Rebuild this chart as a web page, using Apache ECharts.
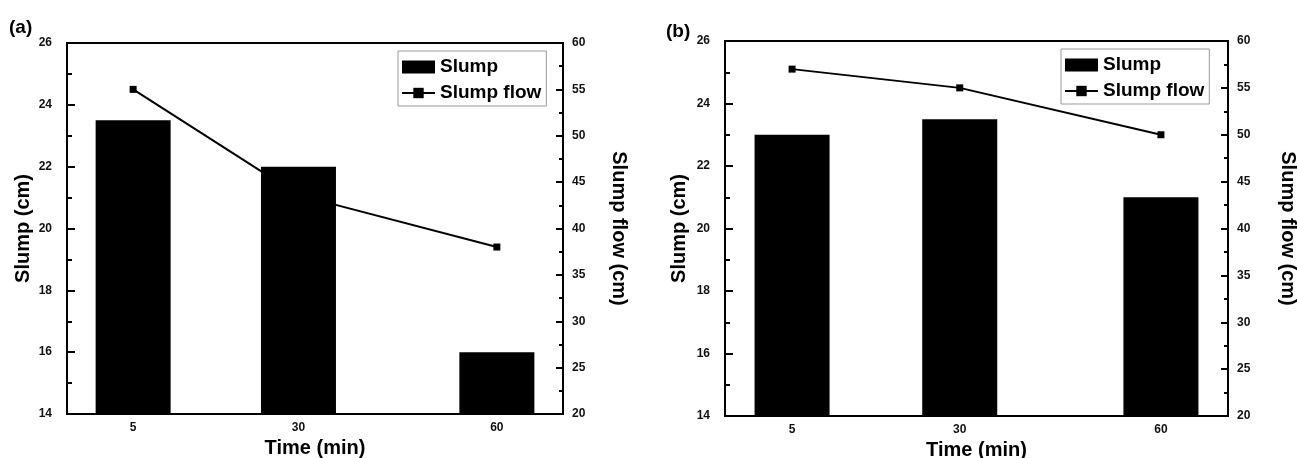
<!DOCTYPE html>
<html lang="en">
<head>
    <meta charset="UTF-8">
    <script src="https://cdn.jsdelivr.net/npm/echarts@6/dist/echarts.min.js"></script>
    <style>
        html, body { margin: 0; padding: 0; background: #fff; }
    </style>
</head>
<body>
<div id="chart" style="width: 1297px;height: 458px"></div>

<script>
    // time points (min)
    var times = [5, 30, 60];
    // panel (a)
    var slumpA = [23.5, 22, 16];
    var flowA = [55, 43.6, 38];
    // panel (b)
    var slumpB = [23, 23.5, 21];
    var flowB = [57, 55, 50];

    var font = '"Liberation Sans", Arial, sans-serif';

    function pairs(ys) {
        return times.map(function (t, i) { return [t, ys[i]]; });
    }

    function xAxisOf(gridIndex) {
        return {
            gridIndex: gridIndex,
            type: 'value',
            min: -5,
            max: 70,
            z: 3,
            name: 'Time (min)',
            nameLocation: 'middle',
            nameGap: 24,
            nameTextStyle: {color: '#000', fontSize: 20, fontWeight: 'bold', fontFamily: font},
            axisLine: {onZero: false, lineStyle: {color: '#000', width: 2}},
            axisTick: {show: false},
            splitLine: {show: false},
            axisLabel: {
                customValues: times,
                color: '#111', fontSize: 12, fontWeight: 'bold', fontFamily: font, margin: 8
            }
        };
    }

    function leftAxisOf(gridIndex, gap) {
        return {
            gridIndex: gridIndex,
            type: 'value',
            position: 'left',
            min: 14, max: 26, interval: 2,
            z: 3,
            name: 'Slump (cm)',
            nameLocation: 'middle',
            nameGap: gap,
            nameTextStyle: {color: '#000', fontSize: 20, fontWeight: 'bold', fontFamily: font},
            axisLine: {show: true, onZero: false, lineStyle: {color: '#000', width: 2}},
            axisTick: {inside: true, length: 8, lineStyle: {color: '#000', width: 2}},
            minorTick: {show: true, splitNumber: 2, length: 5, lineStyle: {color: '#000', width: 2}},
            splitLine: {show: false},
            axisLabel: {color: '#111', fontSize: 12, fontWeight: 'bold', fontFamily: font, margin: 15}
        };
    }

    function rightAxisOf(gridIndex, gap) {
        return {
            gridIndex: gridIndex,
            type: 'value',
            position: 'right',
            min: 20, max: 60, interval: 5,
            z: 3,
            name: 'Slump flow (cm)',
            nameLocation: 'middle',
            nameRotate: -90,
            nameGap: gap,
            nameTextStyle: {color: '#000', fontSize: 20, fontWeight: 'bold', fontFamily: font},
            axisLine: {show: true, onZero: false, lineStyle: {color: '#000', width: 2}},
            axisTick: {inside: true, length: 7, lineStyle: {color: '#000', width: 2}},
            minorTick: {show: true, splitNumber: 2, length: 4, lineStyle: {color: '#000', width: 2}},
            splitLine: {show: false},
            axisLabel: {color: '#111', fontSize: 12, fontWeight: 'bold', fontFamily: font, margin: 9}
        };
    }

    function legendOf(left, top) {
        return {
            left: left,
            top: top,
            orient: 'vertical',
            data: [{name: 'Slump', icon: 'rect'}, {name: 'Slump flow'}],
            itemWidth: 33,
            itemHeight: 13,
            itemGap: 4,
            padding: [5, 5, 2, 3],
            borderColor: '#999',
            borderWidth: 1,
            selectedMode: false,
            textStyle: {color: '#000', fontSize: 19, fontWeight: 'bold', fontFamily: font, lineHeight: 22}
        };
    }

    var chart = echarts.init(document.getElementById('chart'));

    var option = {
        backgroundColor: '#fff',
        animation: false,
        title: [
            {text: '(a)', left: 9, top: 18, textStyle: {color: '#000', fontSize: 19, fontWeight: 'bold', fontFamily: font}, padding: 0},
            {text: '(b)', left: 666, top: 22, textStyle: {color: '#000', fontSize: 19, fontWeight: 'bold', fontFamily: font}, padding: 0}
        ],
        legend: [legendOf(398, 51), legendOf(1061, 49)],
        grid: [
            {left: 67, top: 43, width: 496, height: 371, outerBoundsMode: 'none',
                show: true, borderColor: '#000', borderWidth: 2},
            {left: 725, top: 41, width: 503, height: 375, outerBoundsMode: 'none',
                show: true, borderColor: '#000', borderWidth: 2}
        ],
        xAxis: [xAxisOf(0), xAxisOf(1)],
        yAxis: [leftAxisOf(0, 34), rightAxisOf(0, 46), leftAxisOf(1, 36), rightAxisOf(1, 50)],
        series: [
            {
                name: 'Slump flow', type: 'line', xAxisIndex: 0, yAxisIndex: 1, z: 1,
                data: pairs(flowA),
                symbol: 'rect', symbolSize: 7,
                itemStyle: {color: '#000'},
                lineStyle: {color: '#000', width: 2}
            },
            {
                name: 'Slump', type: 'bar', xAxisIndex: 0, yAxisIndex: 0, z: 2,
                data: pairs(slumpA),
                barWidth: 75,
                itemStyle: {color: '#000'}
            },
            {
                name: 'Slump flow', type: 'line', xAxisIndex: 1, yAxisIndex: 3, z: 1,
                data: pairs(flowB),
                symbol: 'rect', symbolSize: 7,
                itemStyle: {color: '#000'},
                lineStyle: {color: '#000', width: 2}
            },
            {
                name: 'Slump', type: 'bar', xAxisIndex: 1, yAxisIndex: 2, z: 2,
                data: pairs(slumpB),
                barWidth: 75,
                itemStyle: {color: '#000'}
            }
        ]
    };

    chart.setOption(option);
</script>
</body>
</html>
